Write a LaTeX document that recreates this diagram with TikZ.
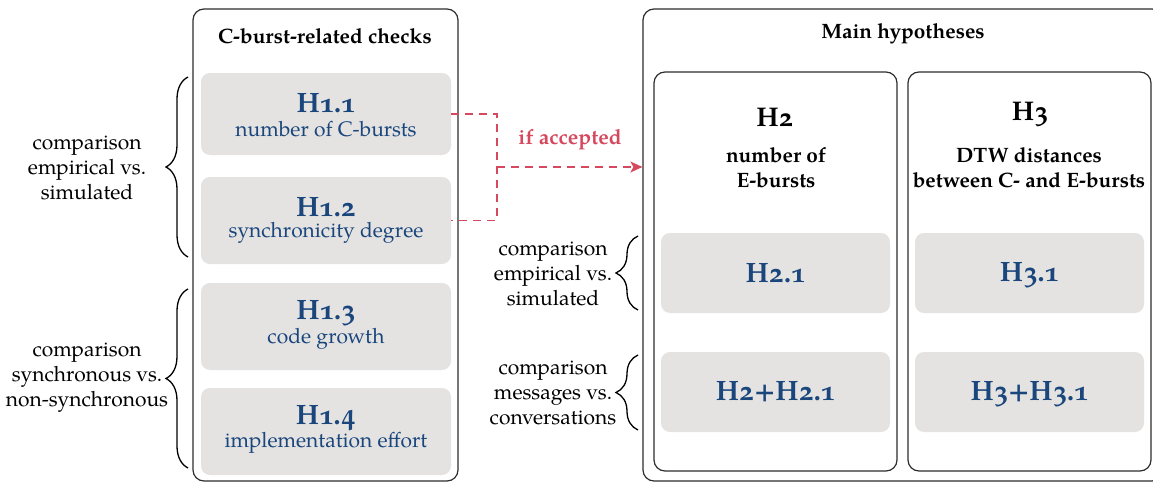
\documentclass[tikz,border=0pt]{standalone}
\usepackage{fontspec}
\setmainfont{TeX Gyre Pagella}[Numbers=OldStyle]
\usetikzlibrary{fit,arrows.meta,decorations.pathreplacing}
\definecolor{hblue}{RGB}{26,70,124}
\definecolor{hred}{RGB}{214,72,94}
\definecolor{boxgray}{RGB}{228,227,226}
\definecolor{framegray}{RGB}{45,45,45}
\begin{document}
\begin{tikzpicture}[x=0.5pt,y=-0.5pt,
  frame/.style={draw=framegray, line width=0.6pt, rounded corners=5.5pt, inner sep=0pt},
  gbox/.style={fill=boxgray, rounded corners=4.5pt, inner sep=0pt},
  hid/.style={font=\fontsize{14}{16}\selectfont\bfseries, text=hblue, inner sep=0pt},
  hsub/.style={font=\fontsize{10.5}{12.5}\selectfont, text=hblue, inner sep=0pt},
  hbig/.style={font=\fontsize{13.5}{16}\selectfont\bfseries, inner sep=0pt},
  heading/.style={font=\fontsize{10.4}{12.5}\selectfont\bfseries, align=center, inner sep=0pt},
  side/.style={font=\fontsize{10.5}{12.4}\selectfont, align=center, inner sep=0pt},
  curly/.style={decorate, decoration={brace, amplitude=11pt, raise=0pt}, line width=0.65pt},
  reddash/.style={draw=hred, line width=0.8pt, dash pattern=on 4pt off 3pt}
]
\useasboundingbox (0,0) rectangle (1153,482);

% ---- left panel: C-burst-related checks ----
\node[frame, fit={(193,9) (458,481)}] (left) {};
\node[heading] (lefttitle) at (325,36) {C-burst-related checks};

\node[gbox, fit={(201,73) (451,155)}] (h11) {};
\node[hid] (h11id) at (326,103) {H1.1};
\node[hsub] (h11txt) at (326,129) {number of C-bursts};

\node[gbox, fit={(201,177) (451,264)}] (h12) {};
\node[hid] (h12id) at (326,207) {H1.2};
\node[hsub] (h12txt) at (326,233) {synchronicity degree};

\node[gbox, fit={(201,283) (451,370)}] (h13) {};
\node[hid] (h13id) at (326,313) {H1.3};
\node[hsub] (h13txt) at (326,339) {code growth};

\node[gbox, fit={(201,388) (451,475)}] (h14) {};
\node[hid] (h14id) at (326,418) {H1.4};
\node[hsub] (h14txt) at (326,443) {implementation effort};

% braces and their labels on the left
\coordinate (b1lo) at (188,257);
\coordinate (b1hi) at (188,77);
\draw[curly] (b1lo) -- (b1hi);
\node[side] (cmp1) at (87,168) {comparison\\empirical vs.\\simulated};

\coordinate (b2lo) at (188,468);
\coordinate (b2hi) at (188,289);
\draw[curly] (b2lo) -- (b2hi);
\node[side] (cmp2) at (87,378) {comparison\\synchronous vs.\\non-synchronous};

% ---- right panel: main hypotheses ----
\node[frame, fit={(643,9) (1163,481)}] (right) {};
\node[heading] (righttitle) at (903,34) {Main hypotheses};

\node[frame, fit={(654,72) (897,471)}] (h2box) {};
\node[hbig] (h2id) at (775,117) {H2};
\node[heading] (h2txt) at (776,168) {number of\\E-bursts};

\node[frame, fit={(908,72) (1151,471)}] (h3box) {};
\node[hbig] (h3id) at (1030,114) {H3};
\node[heading] (h3txt) at (1029,168) {DTW distances\\between C- and E-bursts};

\node[gbox, fit={(661,233) (890,313)}] (h21) {};
\node[hid] (h21id) at (h21.center) {H2.1};
\node[gbox, fit={(661,352) (890,432)}] (h221) {};
\node[hid] (h221id) at (h221.center) {H2+H2.1};

\node[gbox, fit={(915,233) (1144,313)}] (h31) {};
\node[hid] (h31id) at ([yshift=-1pt]h31.center) {H3.1};
\node[gbox, fit={(915,352) (1144,432)}] (h331) {};
\node[hid] (h331id) at ([yshift=-1pt]h331.center) {H3+H3.1};

% braces between the panels
\coordinate (b3lo) at (638,310);
\coordinate (b3hi) at (638,236);
\draw[curly] (b3lo) -- (b3hi);
\node[side] (cmp3) at (553,274) {comparison\\empirical vs.\\simulated};

\coordinate (b4lo) at (638,430);
\coordinate (b4hi) at (638,355);
\draw[curly] (b4lo) -- (b4hi);
\node[side] (cmp4) at (553,393) {comparison\\messages vs.\\conversations};

% ---- dashed connector: accepted checks feed into H2 ----
\coordinate (join) at (497,167);
\draw[reddash] (h11.east) -- (h11.east -| join) -- (h12.east -| join) -- (h12.east);
\draw[reddash, -{Stealth[length=6pt, width=5.5pt, inset=1.5pt]}] (join) -- (right.west |- join);
\node[font=\fontsize{10.5}{12.5}\selectfont\bfseries, text=hred, inner sep=0pt] (ifacc) at (570,140) {if accepted};
\end{tikzpicture}
\end{document}
